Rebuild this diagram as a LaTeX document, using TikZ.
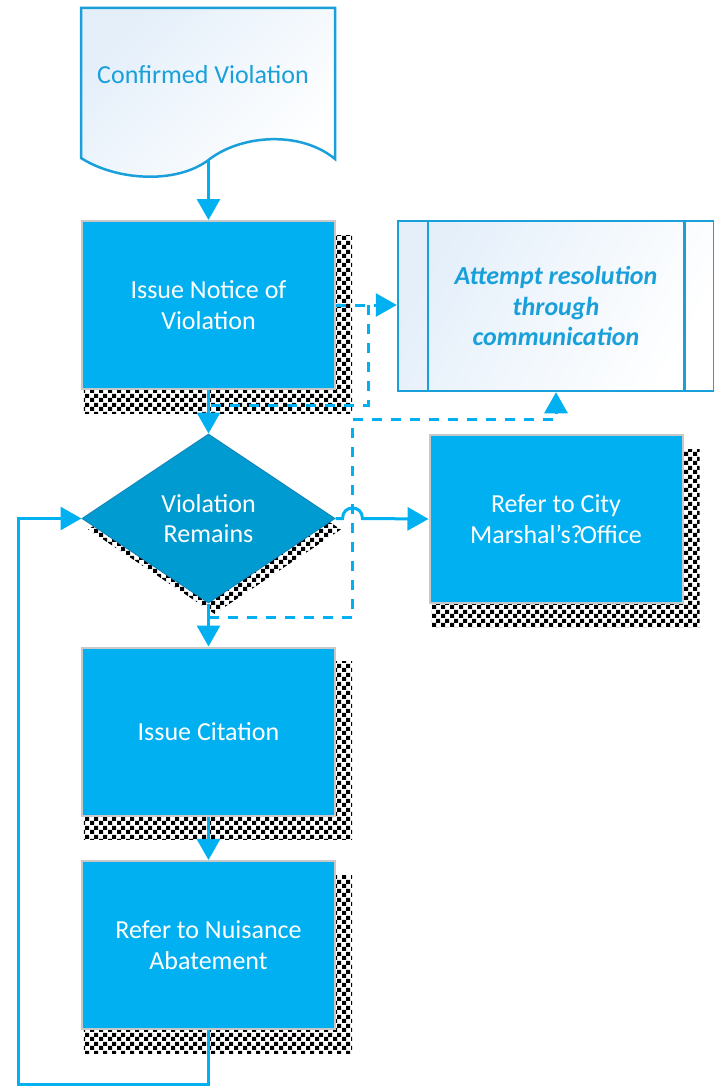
\documentclass[tikz,border=0pt]{standalone}
\usepackage{fontspec}
\setmainfont{Carlito}
\usetikzlibrary{arrows.meta,shapes.geometric,shadows,patterns}

\definecolor{lineblue}{RGB}{0,176,240}
\definecolor{boxblue}{RGB}{0,176,240}
\definecolor{decblue}{RGB}{0,155,208}
\definecolor{decedge}{RGB}{20,135,185}
\definecolor{boxgray}{RGB}{200,200,200}
\definecolor{docblue}{RGB}{25,160,218}
\definecolor{paleblue}{RGB}{228,239,250}

\pgfdeclarepatternformonly{shadowchk}{\pgfpointorigin}{\pgfpoint{9pt}{9pt}}{\pgfpoint{9pt}{9pt}}{%
  \pgfpathrectangle{\pgfpointorigin}{\pgfpoint{4.5pt}{4.5pt}}%
  \pgfpathrectangle{\pgfpoint{4.5pt}{4.5pt}}{\pgfpoint{4.5pt}{4.5pt}}%
  \pgfusepath{fill}}

\tikzset{
  box/.style={rectangle,fill=boxblue,draw=boxgray,line width=2pt,text=white,
    minimum width=253pt,minimum height=168pt,align=center,
    general shadow={shadow scale=1.06,shadow xshift=9pt,shadow yshift=-18pt,pattern=shadowchk}},
  decision/.style={diamond,fill=decblue,draw=decedge,line width=1pt,text=white,
    minimum width=253pt,minimum height=169pt,inner sep=0pt,align=center,
    general shadow={shadow xshift=6pt,shadow yshift=-11pt,pattern=shadowchk}},
  subproc/.style={rectangle,draw=docblue,line width=2.5pt,top color=paleblue,
    bottom color=white,shading angle=60,minimum width=316pt,minimum height=170pt,
    align=center,text=docblue,font=\fontsize{26}{30.5}\selectfont\bfseries\itshape},
  link/.style={draw=lineblue,line width=3pt,-{Triangle[length=21pt,width=23pt]}},
  dashlink/.style={link,dash pattern=on 10pt off 9pt}
}

\begin{document}
\begin{tikzpicture}[x=1pt,y=-1pt,font=\fontsize{26}{30.5}\selectfont]
			\useasboundingbox (0,0) rectangle (713,1086);

			% document shape
			\draw[draw=docblue,line width=2.5pt,top color=paleblue,bottom color=white,shading angle=45]
				(81,8) -- (335,8) -- (335,159) .. controls (300,130) and (240,135) .. (208.5,160)
				.. controls (175,185) and (115,180) .. (81,158) -- cycle;
			\node[text=docblue] (doc) at (203,75) {Confirmed Violation};
			\coordinate (docend) at (208.5,160);

			\node[box] (notice) at (208.5,305) {Issue Notice of\\Violation};
			\node[subproc] (sub) at (556,306) {Attempt resolution\\through\\communication};
			\draw[docblue,line width=2.5pt] ([xshift=31pt]sub.north west) -- ([xshift=31pt]sub.south west);
			\draw[docblue,line width=2.5pt] ([xshift=-31pt]sub.north east) -- ([xshift=-31pt]sub.south east);
			\node[decision] (remain) at (208.5,518.5) {Violation\\Remains};
			\node[box] (marshal) at (556,519) {Refer to City\\Marshal’s?\kern-3pt Office};
			\node[box] (cite) at (208.5,731.5) {Issue Citation};
			\node[box] (abate) at (208.5,945) {Refer to Nuisance\\Abatement};

			\draw[link] (docend) -- (notice.north);
			\draw[link] (notice.south) -- (remain.north);
			\draw[link] (remain.south) -- (cite.north);
			\draw[link] (cite.south) -- (abate.north);
			\draw[link] (remain.east) -- ++(7,0) .. controls +(0,-14) and +(0,-14) .. ++(20,0) -- (marshal.west);

			% loop back
			\coordinate (back) at (18,1084);
			\draw[link] (abate.south) -- (abate.south |- back) -- (back) |- (remain.west);

			% dashed links
			\coordinate (dd1) at (368,405);
			\draw[dashlink] (notice.east) -- (notice.east -| sub.west);
			\draw[dashlink,-] (dd1 |- notice.east) -- (dd1) -- (dd1 -| notice.south);
			\coordinate (dd2) at (352,617);
			\coordinate (dd3) at (352,419);
			\draw[dashlink] (dd2 -| remain.south) -- (dd2) -- (dd3) -| (sub.south);
		\end{tikzpicture}
\end{document}
